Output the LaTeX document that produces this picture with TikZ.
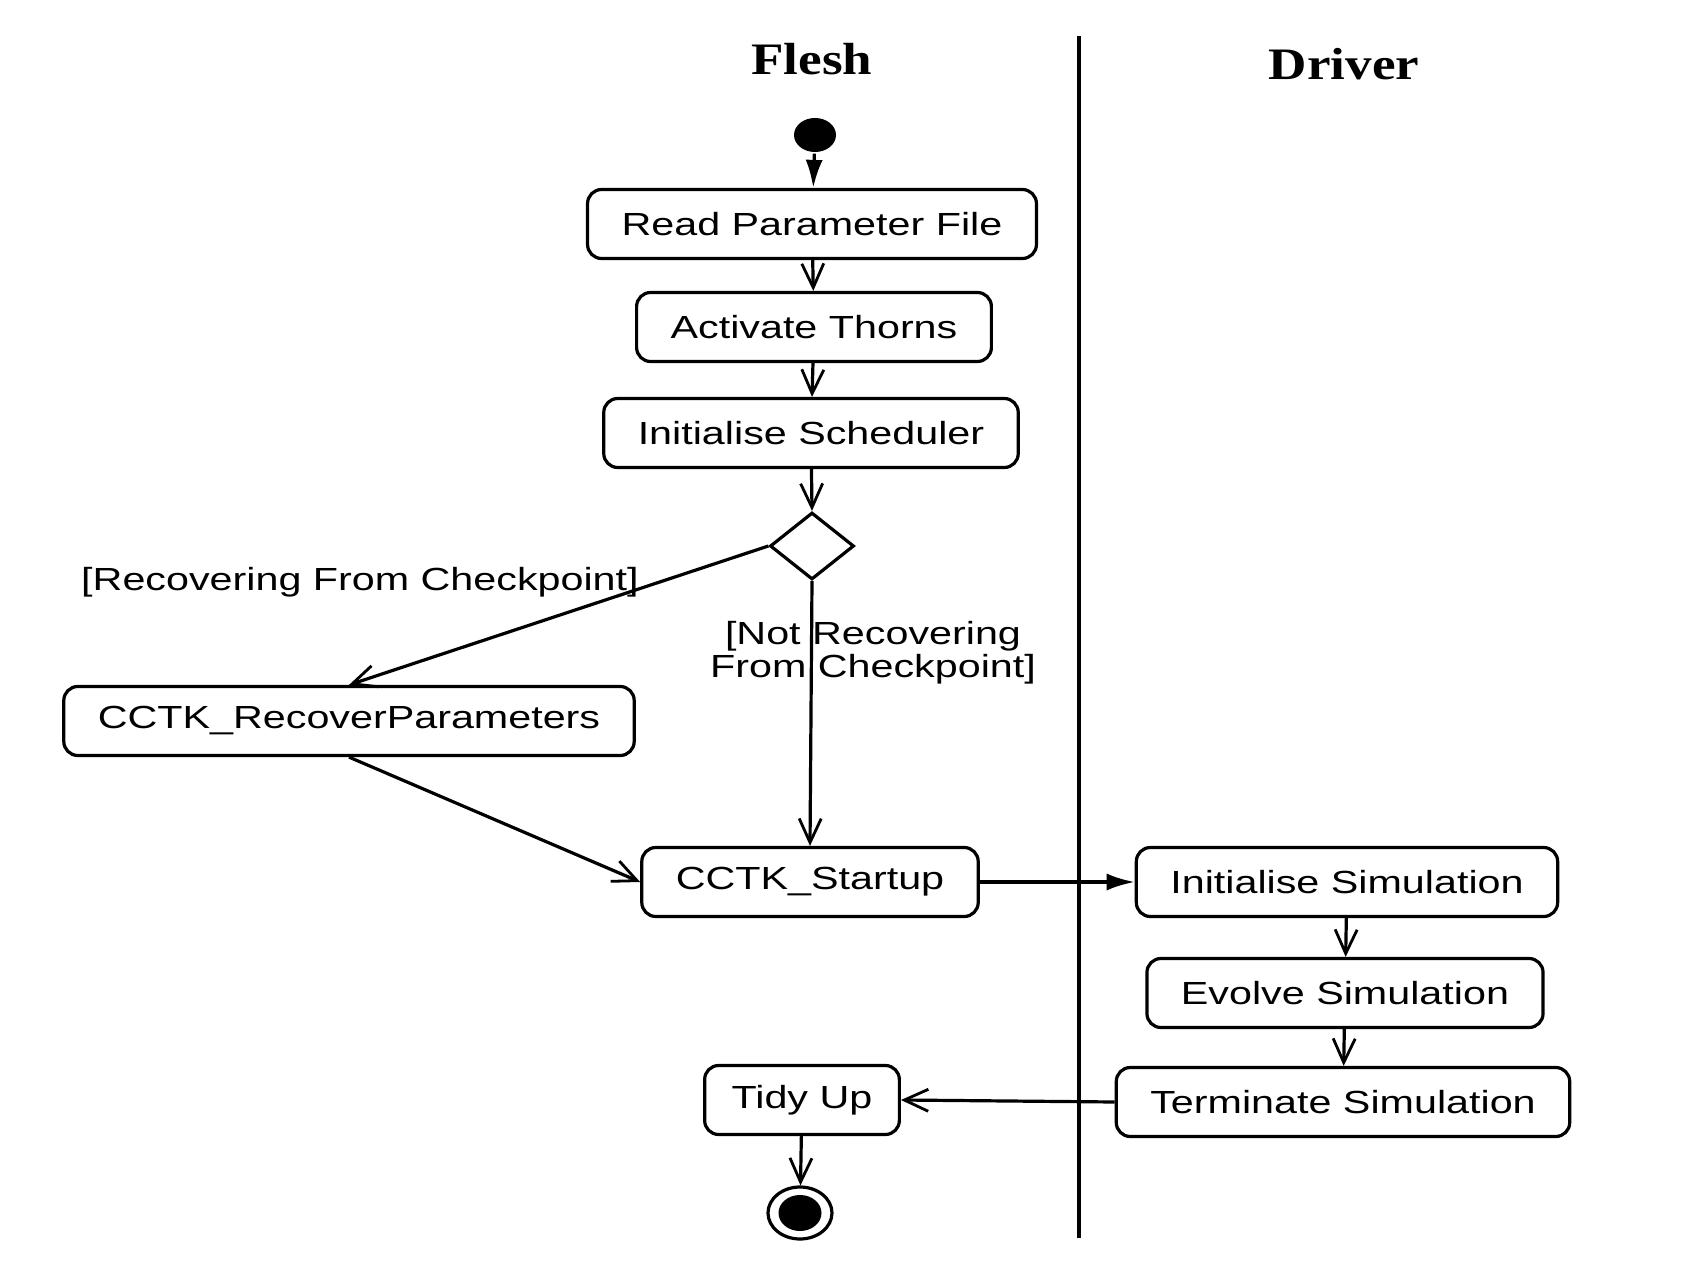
\documentclass[tikz,border=0pt]{standalone}
\usepackage{fontspec}
\newfontfamily\boxfont{Liberation Sans}[FakeStretch=1.29]
\newfontfamily\lanefont{Liberation Serif}[FakeStretch=1.18]
\usepackage{tikz}
\usetikzlibrary{positioning, shapes.geometric, arrows.meta, calc}

\begin{document}
\begin{tikzpicture}[x=0.5pt, y={(0pt,-0.5pt)}, line width=1.6pt,
     activity/.style={draw, rectangle, rounded corners=7pt, line width=1.6pt,
        minimum height=34.5pt, inner xsep=17pt, fill=white,
        font=\boxfont\fontsize{16}{19}\selectfont},
     guard/.style={font=\boxfont\fontsize{16}{16.5}\selectfont, align=center, inner sep=0pt},
     lane/.style={font=\lanefont\bfseries\fontsize{22.5}{27}\selectfont, anchor=base},
     flow/.style={-{Straight Barb[length=12pt,width=11pt,line width=1.4pt]}},
     signal/.style={-{Latex[length=14pt,width=8.5pt]}},
  ]
  \useasboundingbox (0,0) rectangle (1694,1284);

  % swimlanes
  \node[lane] (flesh) at (812,75) {Flesh};
  \node[lane] (driver) at (1344,80) {Driver};
  \coordinate (lanetop) at (1079,36);
  \coordinate (lanebot) at (1079,1238);
  \draw[line width=1.6pt] (lanetop) -- (lanebot);

  % flesh activities
  \node[ellipse, fill, minimum width=21pt, minimum height=17pt, inner sep=0pt] (start) at (815,135) {};
  \node[activity] (readpar) at (812,224) {Read Parameter File};
  \node[activity] (activate) at (814,327) {Activate Thorns};
  \node[activity] (initsched) at (811,433) {Initialise Scheduler};
  \node[diamond, draw, line width=1.6pt, minimum width=42pt, minimum height=33.5pt,
        inner sep=0pt] (branch) at (812,546) {};
  \node[activity] (recover) at (349,721) {CCTK\_RecoverParameters};
  \node[activity] (startup) at (810,882) {CCTK\_Startup};
  \node[activity, inner xsep=13.5pt] (tidy) at (802,1100) {Tidy Up};
  \node[ellipse, draw, line width=1.6pt, minimum width=32pt, minimum height=26pt,
        inner sep=0pt] (finish) at (800,1213) {};
  \node[ellipse, fill, minimum width=21.5pt, minimum height=18pt, inner sep=0pt]
        (finishdot) at (finish.center) {};

  % driver activities
  \node[activity] (initsim) at (1347,882) {Initialise Simulation};
  \node[activity] (evolve) at (1345,993) {Evolve Simulation};
  \node[activity] (terminate) at (1343,1102) {Terminate Simulation};

  \path[signal] (start) edge (readpar);
  \path[flow]
   (readpar) edge (activate)
   (activate) edge (initsched)
   (initsched) edge (branch.north)
   (branch.west) edge (recover.north)
   (branch.south) edge (startup.north)
   (recover.south) edge (startup.west)
   (initsim) edge (evolve)
   (evolve) edge (terminate)
   (terminate.west) edge (tidy.east)
   (tidy) edge (finish);
  \path[signal] (startup.east) edge (initsim.west);

  % guards
  \node[guard] (recguard) at (360,582) {[Recovering From Checkpoint]};
  \node[guard] (notguard) at (873,653) {[Not Recovering\\From Checkpoint]};
\end{tikzpicture}
\end{document}
